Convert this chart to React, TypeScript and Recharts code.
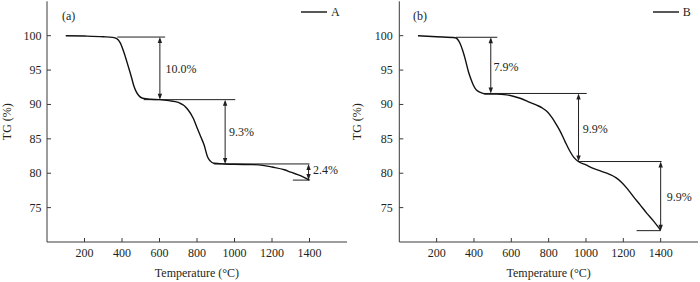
import React from 'react';
import { LineChart, Line, XAxis, YAxis, ReferenceLine, ReferenceDot, Legend, Label } from 'recharts';

const FONT = '"Liberation Serif", "Times New Roman", Times, serif';
const INK = '#231f20';
const AXIS = '#3a3a3a';

const xTicks = [200, 400, 600, 800, 1000, 1200, 1400];
const yTicks = [75, 80, 85, 90, 95, 100];

// Sample A
const tempA = [100, 200, 300, 350, 370, 390, 410, 436, 450, 462, 475, 489, 510, 550, 600, 650, 700, 750, 780, 802, 820, 838, 856, 870, 890, 950, 1000, 1100, 1150, 1200, 1266, 1300, 1355, 1400];
const tgA = [100.0, 99.95, 99.85, 99.75, 99.6, 99.0, 97.6, 95.3, 94.0, 92.8, 91.9, 91.3, 90.9, 90.75, 90.7, 90.55, 90.3, 89.3, 88.0, 86.5, 85.3, 84.1, 82.4, 81.8, 81.45, 81.35, 81.3, 81.25, 81.15, 80.9, 80.5, 80.15, 79.6, 79.0];

// Sample B
const tempB = [100, 200, 300, 325, 340, 352, 370, 385, 397, 410, 423, 445, 468, 520, 575, 610, 647, 700, 736, 765, 790, 815, 843, 860, 888, 914, 935, 959, 1000, 1039, 1080, 1129, 1160, 1190, 1220, 1254, 1290, 1325, 1360, 1400];
const tgB = [100.0, 99.85, 99.7, 98.9, 97.8, 96.7, 94.8, 93.6, 92.8, 92.2, 91.9, 91.65, 91.5, 91.5, 91.4, 91.2, 90.9, 90.3, 89.9, 89.5, 89.0, 88.2, 87.0, 86.2, 84.6, 83.2, 82.3, 81.7, 81.2, 80.7, 80.3, 79.8, 79.35, 78.7, 77.8, 76.6, 75.4, 74.2, 73.1, 71.7];

// Step annotations A
const levelsA = [99.8, 90.7, 81.35, 79.0];
const levelStartA = [375, 516, 890, 1311];
const levelEndA = [630, 1004, 1400, 1400];
const arrowTempA = [602, 950, 1395];
const lossTextA = ['10.0%', '9.3%', '2.4%'];
const lossTempA = [632, 971, 1418];
const lossTgA = [95.1, 86.0, 80.5];

// Step annotations B
const levelsB = [99.77, 91.6, 81.7, 71.65];
const levelStartB = [304, 450, 958, 1271];
const levelEndB = [525, 1004, 1405, 1400];
const arrowTempB = [490, 960, 1400];
const lossTextB = ['7.9%', '9.9%', '9.9%'];
const lossTempB = [504, 982, 1432];
const lossTgB = [95.4, 86.4, 76.6];

const dataA = tempA.map((t, i) => ({ t, tg: tgA[i] }));
const dataB = tempB.map((t, i) => ({ t, tg: tgB[i] }));

const XTick = (props: any) => {
  const { x, y, payload } = props;
  return (
    <g>
      <line x1={x} x2={x} y1={y} y2={y - 4} stroke={AXIS} strokeWidth={1} />
      <text x={x} y={y + 15} textAnchor="middle" fontFamily={FONT} fontSize={12} fill={INK}>
        {payload.value}
      </text>
    </g>
  );
};

const makeYTick = (gap: number) => (props: any) => {
  const { x, y, payload } = props;
  return (
    <g>
      <line x1={x} x2={x + 4} y1={y} y2={y} stroke={AXIS} strokeWidth={1} />
      <text x={x - gap} y={y + 4} textAnchor="end" fontFamily={FONT} fontSize={12} fill={INK}>
        {payload.value}
      </text>
    </g>
  );
};

const YLabel = (props: any) => {
  const vb = props.viewBox || {};
  const cx = (vb.x ?? 0) + 11;
  const cy = (vb.y ?? 0) + (vb.height ?? 0) / 2;
  return (
    <text x={cx} y={cy} transform={`rotate(-90 ${cx} ${cy})`} textAnchor="middle" fontFamily={FONT} fontSize={12} fill={INK}>
      TG (%)
    </text>
  );
};

const ArrowShape = (props: any) => {
  const { x1, y1, x2, y2 } = props;
  const x = (x1 + x2) / 2;
  const top = Math.min(y1, y2);
  const bot = Math.max(y1, y2);
  return (
    <g>
      <line x1={x} x2={x} y1={top + 2} y2={bot - 2} stroke={INK} strokeWidth={1} />
      <polygon points={`${x},${top} ${x - 2.2},${top + 6} ${x + 2.2},${top + 6}`} fill={INK} />
      <polygon points={`${x},${bot} ${x - 2.2},${bot - 6} ${x + 2.2},${bot - 6}`} fill={INK} />
    </g>
  );
};

const makeTextShape = (txt: string) => (props: any) => (
  <text x={props.cx} y={props.cy + 4} textAnchor="start" fontFamily={FONT} fontSize={12} fill={INK}>
    {txt}
  </text>
);

type PanelProps = {
  data: { t: number; tg: number }[];
  name: string;
  tag: string;
  yAxisWidth: number;
  rightMargin: number;
  tickGap: number;
  legendLeft: number;
  tagX: number;
  levels: number[];
  levelStart: number[];
  levelEnd: number[];
  arrowTemp: number[];
  lossText: string[];
  lossTemp: number[];
  lossTg: number[];
};

const Panel = (p: PanelProps) => {
  const YTick = makeYTick(p.tickGap);
  return (
    <LineChart
      width={350}
      height={282}
      data={p.data}
      margin={{ top: 1.3, right: p.rightMargin, bottom: 0, left: 0 }}
    >
      <XAxis
        dataKey="t"
        type="number"
        domain={[0, 1600]}
        ticks={xTicks}
        height={40}
        tickSize={0}
        tickMargin={0}
        tickLine={false}
        tick={<XTick />}
        axisLine={{ stroke: AXIS, strokeWidth: 1 }}
        allowDataOverflow
      >
        <Label
          value="Temperature (°C)"
          position="insideBottom"
          offset={5}
          fill={INK}
          fontSize={12}
          fontFamily={FONT}
        />
      </XAxis>
      <XAxis
        xAxisId="top"
        orientation="top"
        type="number"
        domain={[0, 1600]}
        height={0}
        tick={false}
        tickLine={false}
        axisLine={{ stroke: AXIS, strokeWidth: 1 }}
      />
      <YAxis
        type="number"
        domain={[70, 105]}
        ticks={yTicks}
        width={p.yAxisWidth}
        tickSize={0}
        tickMargin={0}
        tickLine={false}
        tick={<YTick />}
        axisLine={{ stroke: AXIS, strokeWidth: 1 }}
        allowDataOverflow
      >
        <Label content={<YLabel />} />
      </YAxis>
      <YAxis
        yAxisId="right"
        orientation="right"
        type="number"
        domain={[70, 105]}
        width={0}
        tick={false}
        tickLine={false}
        axisLine={{ stroke: AXIS, strokeWidth: 1 }}
      />
      {p.levels.map((lv, i) => (
        <ReferenceLine
          key={`h${i}`}
          segment={[{ x: p.levelStart[i], y: lv }, { x: p.levelEnd[i], y: lv }]}
          stroke={INK}
          strokeWidth={1}
        />
      ))}
      {p.arrowTemp.map((at, i) => (
        <ReferenceLine
          key={`a${i}`}
          segment={[{ x: at, y: p.levels[i] }, { x: at, y: p.levels[i + 1] }]}
          shape={ArrowShape}
        />
      ))}
      {p.lossText.map((txt, i) => (
        <ReferenceDot
          key={`t${i}`}
          x={p.lossTemp[i]}
          y={p.lossTg[i]}
          r={1}
          ifOverflow="visible"
          shape={makeTextShape(txt)}
        />
      ))}
      <Line
        dataKey="tg"
        name={p.name}
        type="monotone"
        stroke="#111"
        strokeWidth={1.4}
        dot={false}
        isAnimationActive={false}
      />
      <Legend
        layout="vertical"
        align="center"
        verticalAlign="middle"
        wrapperStyle={{ left: p.legendLeft, top: 5, width: 50, height: 14 }}
        content={() => (
          <div style={{ display: 'flex', alignItems: 'center', height: 14, fontFamily: FONT, fontSize: 12, color: INK }}>
            <svg width={26} height={4} style={{ display: 'block' }}>
              <line x1={0} x2={26} y1={2} y2={2} stroke="#111" strokeWidth={1.4} />
            </svg>
            <span style={{ marginLeft: 4, lineHeight: '14px' }}>{p.name}</span>
          </div>
        )}
      />
      <text x={p.tagX} y={20} fontFamily={FONT} fontSize={12} fill={INK}>
        {p.tag}
      </text>
    </LineChart>
  );
};

export default function App() {
  return (
    <div style={{ position: 'absolute', left: 0, top: 0, width: 700, height: 282, display: 'flex', background: '#fff' }}>
      <Panel
        data={dataA}
        name="A"
        tag="(a)"
        yAxisWidth={47}
        rightMargin={3}
        tickGap={5.5}
        legendLeft={301}
        tagX={62}
        levels={levelsA}
        levelStart={levelStartA}
        levelEnd={levelEndA}
        arrowTemp={arrowTempA}
        lossText={lossTextA}
        lossTemp={lossTempA}
        lossTg={lossTgA}
      />
      <Panel
        data={dataB}
        name="B"
        tag="(b)"
        yAxisWidth={49.3}
        rightMargin={2}
        tickGap={6.5}
        legendLeft={302.7}
        tagX={63}
        levels={levelsB}
        levelStart={levelStartB}
        levelEnd={levelEndB}
        arrowTemp={arrowTempB}
        lossText={lossTextB}
        lossTemp={lossTempB}
        lossTg={lossTgB}
      />
    </div>
  );
}
